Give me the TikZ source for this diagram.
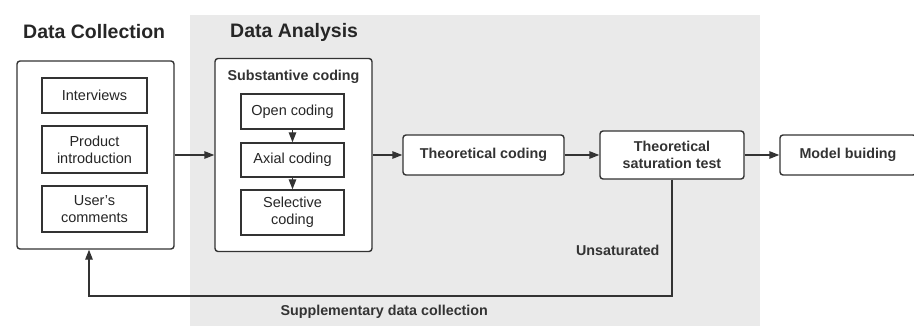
\documentclass[tikz,border=0pt]{standalone}
\usepackage{fontspec}
\setmainfont{Liberation Sans}
\usetikzlibrary{arrows.meta}
\definecolor{linec}{HTML}{333333}
\definecolor{bgc}{HTML}{EAEAEA}
\begin{document}
\begin{tikzpicture}[x=1pt,y=-1pt,
  line/.style={draw=linec, line width=1.4pt},
  box/.style={line, rounded corners=3pt, fill=white, inner sep=0pt, align=center, font=\fontsize{14.5}{17}\selectfont},
  sq/.style={line, fill=white, inner sep=0pt, align=center, font=\fontsize{14.5}{17}\selectfont},
  medium/.style={font=\bfseries\fontsize{14.3}{17.5}\selectfont, text=linec},
  arr/.style={line, -{Triangle[length=10pt,width=7.5pt]}},
  ttl/.style={font=\bfseries\fontsize{19.5}{24}\selectfont, anchor=west, text=black!85, inner sep=0pt},
  every node/.append style={text=black!85}]
\useasboundingbox (0,0) rectangle (914,326);
\fill[bgc] (190,15) rectangle (760,326);
\node[ttl] (t1) at (23,32) {Data Collection};
\node[ttl] (t2) at (230,32) {Data Analysis};
% data collection
\node[box, minimum width=157pt, minimum height=188pt] (left) at (95.5,155) {};
\node[sq, minimum width=105pt, minimum height=35pt] (int) at (94.5,95.5) {Interviews};
\node[sq, minimum width=105pt, minimum height=47pt] (prod) at (94.5,149.5) {Product\\introduction};
\node[sq, minimum width=105pt, minimum height=46pt] (user) at (94.5,209) {User’s\\comments};
% substantive
\node[box, minimum width=157pt, minimum height=193pt] (subst) at (293.5,155) {};
\node[medium] (stitle) at (293.5,77) {Substantive coding};
\node[sq, minimum width=103pt, minimum height=35pt] (open) at (292.5,111.5) {Open coding};
\node[sq, minimum width=103pt, minimum height=34pt] (axial) at (292.5,160) {Axial coding};
\node[sq, minimum width=103pt, minimum height=45pt] (sel) at (292.5,212.5) {Selective\\coding};
\draw[arr] (open) -- (axial);
\draw[arr] (axial) -- (sel);
% others
\node[box, medium, minimum width=161pt, minimum height=40pt] (theo) at (483.5,155) {Theoretical coding};
\node[box, medium, minimum width=144pt, minimum height=48pt] (sat) at (672,155) {Theoretical\\saturation test};
\node[box, medium, minimum width=136pt, minimum height=40pt] (model) at (848,155) {Model buiding};
\draw[arr] (left) -- (subst);
\draw[arr] (subst) -- (theo);
\draw[arr] (theo) -- (sat);
\draw[arr] (sat) -- (model);
% feedback
\coordinate (fb1) at (672,296);
\coordinate (fb2) at (89,296);
\draw[arr] (sat.south) -- (sat.south |- fb1) -- (fb2) -- (fb2 |- left.south);
\node[medium, anchor=east] (uns) at (663,250) {Unsaturated};
\node[medium, anchor=west] (sup) at (277,312) {Supplementary data collection};
\end{tikzpicture}
\end{document}
